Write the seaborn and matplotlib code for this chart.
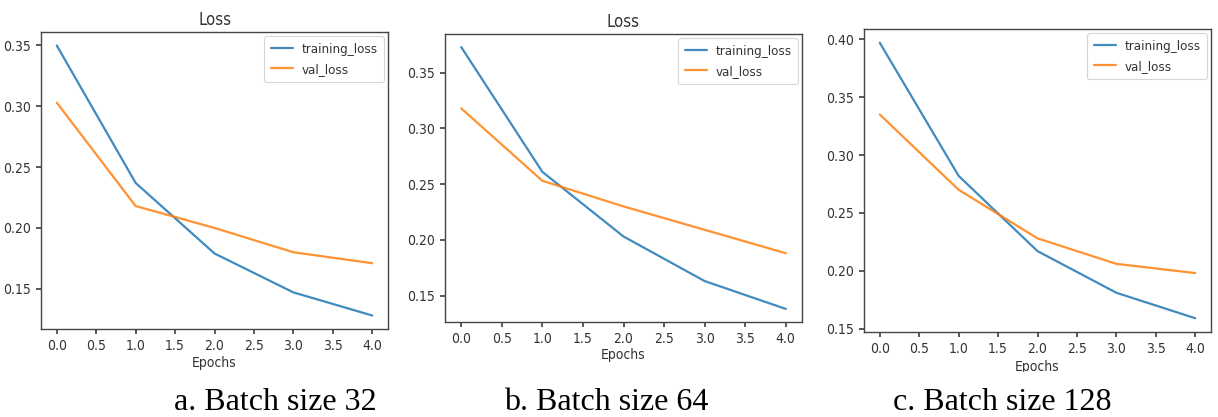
import matplotlib
matplotlib.use("Agg")
import matplotlib.pyplot as plt
from matplotlib import font_manager
import seaborn as sns
import pandas as pd

# Loss per epoch for three batch sizes
epochs = [0, 1, 2, 3, 4]
train_32 = [0.350, 0.237, 0.179, 0.147, 0.128]
val_32 = [0.303, 0.218, 0.200, 0.180, 0.171]
train_64 = [0.373, 0.261, 0.203, 0.163, 0.138]
val_64 = [0.318, 0.253, 0.230, 0.209, 0.188]
train_128 = [0.397, 0.282, 0.217, 0.181, 0.159]
val_128 = [0.335, 0.270, 0.228, 0.206, 0.198]
captions = ["a. Batch size 32", "b. Batch size 64", "c. Batch size 128"]
titles = ["Loss", "Loss", ""]

sns.set_theme(style="ticks")


def pick_narrow_font():
    """Return (family, stretch) of a condensed sans face if one is installed."""
    good = []
    for f in font_manager.fontManager.ttflist:
        if f.style != "normal" or f.weight not in (400, "normal", "regular"):
            continue
        cond = ("Narrow" in f.name or "Condensed" in f.name
                or f.stretch in ("condensed", "semi-condensed", 600, 700, "narrow"))
        if cond and "Serif" not in f.name and "Mono" not in f.name:
            good.append(f)
    good.sort(key=lambda f: (0 if "Liberation" in f.name else 1))
    if good:
        return good[0].name, good[0].stretch
    return "Liberation Sans", "normal"


fam, stretch = pick_narrow_font()
plt.rcParams["font.family"] = [fam, "DejaVu Sans"]
plt.rcParams["font.stretch"] = stretch
plt.rcParams.update({
    "axes.edgecolor": "#444444",
    "axes.linewidth": 1.0,
    "xtick.color": "#444444",
    "ytick.color": "#444444",
    "xtick.labelcolor": "#333333",
    "ytick.labelcolor": "#333333",
    "xtick.labelsize": 10,
    "ytick.labelsize": 10,
    "xtick.major.size": 3.5,
    "ytick.major.size": 3.5,
    "axes.labelsize": 10,
    "axes.titlesize": 12,
    "text.color": "#333333",
    "axes.labelcolor": "#333333",
})

W, H = 1218, 417
fig = plt.figure(figsize=(W / 100, H / 100), dpi=100)

# axes boxes in pixels: left, top, right, bottom
boxes = [(41, 32, 388, 329), (445, 34, 802, 322), (864, 29, 1211, 332)]
series = [(train_32, val_32), (train_64, val_64), (train_128, val_128)]
cap_x = [275, 606, 1002]
label_pads = [2, 2, 3]

blue, orange = "#1f77b4", "#ff7f0e"
xt = [0, 0.5, 1, 1.5, 2, 2.5, 3, 3.5, 4]

for (l, t, r, b), (tr, va), title, cap, cx, lp in zip(boxes, series, titles,
                                                      captions, cap_x, label_pads):
    ax = fig.add_axes([l / W, 1 - b / H, (r - l) / W, (b - t) / H])
    df = pd.DataFrame({"Epochs": epochs * 2,
                       "loss": tr + va,
                       "series": ["training_loss"] * 5 + ["val_loss"] * 5})
    sns.lineplot(data=df, x="Epochs", y="loss", hue="series",
                 palette=[blue, orange], linewidth=1.6, alpha=0.85, ax=ax)
    ax.set_ylabel("")
    ax.set_xticks(xt)
    ax.set_xticklabels([f"{v:.1f}" for v in xt])
    ax.set_xlabel("Epochs", labelpad=lp)
    if title:
        ax.set_title(title, pad=5)
    leg = ax.legend(loc="upper right", frameon=True, fontsize=9.5,
                    framealpha=0.8, edgecolor="#cccccc", fancybox=True,
                    handlelength=1.7, handletextpad=0.6, borderpad=0.5,
                    labelspacing=0.55, borderaxespad=0.3)
    leg.get_frame().set_linewidth(0.8)
    for txt in leg.get_texts():
        txt.set_color("#333333")
    fig.text(cx / W, 1 - 402 / H, cap, ha="center", va="center",
             fontsize=23, family="Liberation Serif", stretch="normal", color="black")

# white band trimming the lower edge of the last axis label
fig.patches.append(plt.Rectangle((850 / W, 1 - 385 / H), 368 / W, 13 / H,
                                 transform=fig.transFigure, color="white", zorder=10))

fig.savefig("out.png", dpi=100, facecolor="white")
